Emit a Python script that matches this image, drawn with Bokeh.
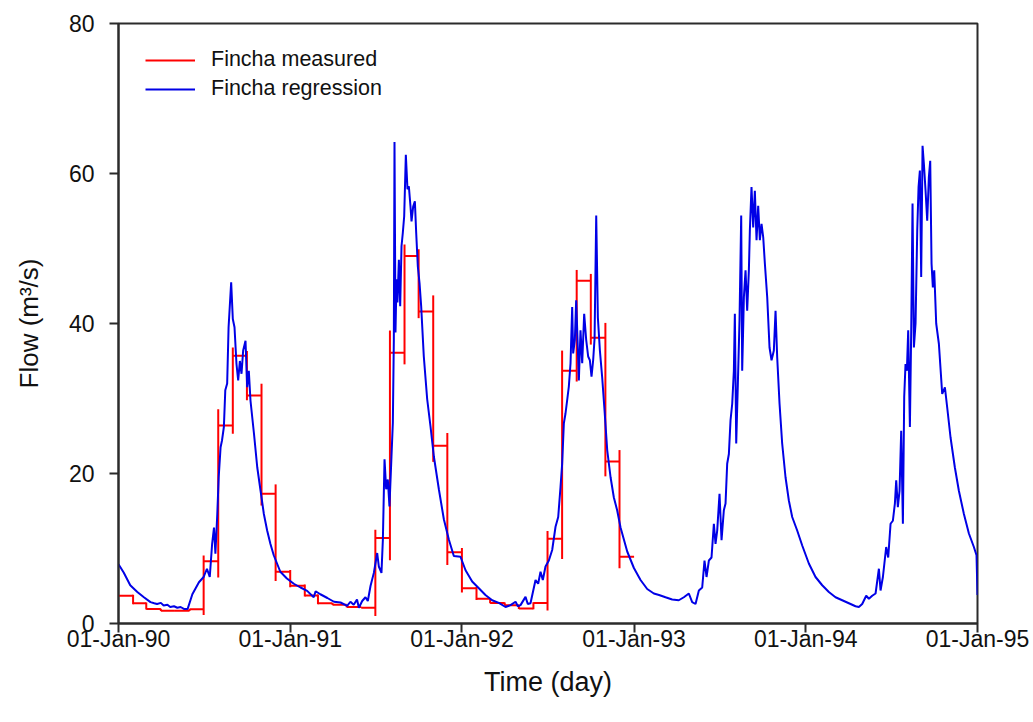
import numpy as np
import pandas as pd
from bokeh.plotting import figure
from bokeh.models import (FixedTicker, DatetimeTickFormatter, Legend, LegendItem,
                          Range1d, ColumnDataSource)
from bokeh.embed import file_html
from bokeh.resources import INLINE

# ---------------- data ----------------
# monthly measured flow (m3/s), Jan..Dec
measured_1990 = [3.7, 2.7, 1.95, 1.7, 1.7, 1.9, 8.3, 26.4, 35.7, 30.4, 17.3, 6.9]
measured_1991 = [5.05, 3.75, 2.7, 2.5, 2.2, 2.1, 11.4, 36.1, 49.0, 41.6, 23.7, 9.5]
measured_1992 = [4.7, 3.3, 2.75, 2.45, 2.0, 2.75, 11.3, 33.7, 45.7, 38.1, 21.6, 8.9]

# regression series: day since 01-Jan-1990, flow
reg_day_1990 = [0, 11, 25, 40, 54, 68, 76, 82, 90, 96, 104, 110, 118, 125, 132, 139, 147,
                157, 171, 181, 188, 194, 199, 203, 206, 210, 213, 217, 220, 224, 227, 231,
                234, 239.5, 243, 246.6, 250.8, 254.4, 258, 261.5, 265, 270, 273.5, 277,
                280.6, 288, 295, 302, 309, 316, 323, 330, 344, 358]
reg_flow_1990 = [7.9, 6.8, 5.1, 4.2, 3.5, 2.85, 2.7, 2.6, 2.75, 2.4, 2.5, 2.2, 2.3, 2.1, 2.2, 1.95, 1.95,
                 3.9, 5.5, 6.2, 7.3, 6.2, 10.6, 12.8, 9.3, 14.6, 19.5, 23.5, 24.4, 26.2, 31.1, 32,
                 39.5, 45.5, 40.6, 39.5, 34.6, 32.4, 35, 33.3, 36.4, 37.7, 31.5, 33.7,
                 29.7, 25.3, 20.8, 17.7, 14.6, 12.4, 10.6, 9.1, 6.9, 6.0]

reg_day_1991 = [372.7, 387, 401, 415, 419, 429, 444, 458, 472, 486, 493, 500, 507, 511, 518,
                525, 530, 535.7, 542.8, 549.9, 553.4, 559, 562, 565.5, 569, 572.5, 576,
                580.3, 583.2, 585.3, 586.7, 588.8, 591, 593, 596, 598.8, 601.6, 604.4,
                607.3, 610.8, 614.3, 617.2, 620.7, 622.9, 626.4, 630, 632.8, 636.3, 639.9,
                643.4, 649, 656.2, 663.2, 670.3, 681, 691.6, 702.2, 712.8]
reg_flow_1991 = [5.3, 4.8, 4.35, 3.5, 4.3, 3.9, 3.4, 2.9, 2.8, 2.35, 2.9, 2.5, 3.2, 2.1, 3.0,
                 3.5, 3.0, 5.0, 6.75, 9.4, 7.6, 6.75, 11.2, 21.9, 17.9, 19.2, 15.6,
                 22.3, 26.8, 37.9, 64.2, 38.8, 45.9, 42.8, 48.5, 42.3, 50.3, 52.1,
                 54.3, 62.5, 57.9, 58.3, 55.6, 53.6, 55.6, 56.3, 52.1, 47.6, 45.4,
                 42.3, 35.6, 29.9, 26.3, 22.3, 17.9, 13.9, 11.2, 9.0]

reg_day_1992 = [727, 737.7, 751.8, 766, 780, 794.3, 808.5, 822.7, 833.3, 844, 849, 854.6,
                865.2, 870, 875.8, 886.5, 892.1, 897.1, 902, 907.7, 914.8, 921.9, 929,
                934.7, 939.6, 943.1, 946.7, 950.2, 953.8, 957.3, 960.9, 964.4, 966.5,
                970.1, 972.9, 975.8, 978.6, 982.1, 985.7, 989.9, 994.2, 998.4, 1002,
                1005.5, 1009, 1012, 1015.5, 1019, 1023.3, 1028.2, 1033.2, 1038.9, 1046,
                1053, 1060, 1067.2, 1081.4, 1095.6, 1109.7, 1123.9, 1138, 1149]
reg_flow_1992 = [8.9, 7.1, 5.6, 4.7, 3.8, 3.1, 2.75, 2.2, 2.45, 2.9, 2.3, 2.45,
                 3.55, 2.6, 2.7, 5.8, 5.3, 6.9, 5.8, 7.6, 8.4, 9.8, 12.9,
                 14.2, 18.2, 21.3, 26.7, 28, 29.8, 31.6, 34.7, 42.2, 36,
                 37.8, 43.1, 37.8, 32.4, 39.1, 34.7, 41.3, 37.8, 35.6, 35.1,
                 32.9, 35.1, 38, 54.4, 40.8, 36.4, 32.8, 28.4, 23.1, 19.5,
                 16.8, 15.1, 12.8, 9.6, 7.4, 5.8, 4.6, 4.0, 3.8]

reg_day_1993 = [1162.8, 1177, 1191, 1201.8, 1212.4, 1219.5, 1226.6, 1233.7, 1240.8, 1245.7,
                1250, 1255, 1260.6, 1265.6, 1269.1, 1272.7, 1277.6, 1281.9, 1286.8, 1290.4,
                1293.9, 1297.5, 1301, 1304.6, 1308.1, 1310.2, 1313.1, 1316.6, 1320.1,
                1323.7, 1325.8, 1329.4, 1332.9, 1336.4, 1340, 1342.1, 1345.6, 1349.2,
                1352.7, 1356.3, 1359.8, 1363.4, 1366.9, 1370.5, 1374, 1379, 1383.9,
                1388.2, 1393.1, 1396.7, 1400.2, 1405.2, 1410.8, 1417.9, 1425, 1432.1,
                1442.7, 1453.4]
reg_flow_1993 = [3.5, 3.2, 3.1, 3.5, 4.0, 2.85, 2.6, 4.4, 4.8, 8.4,
                 6.2, 8.4, 8.8, 13.3, 10.6, 12.4, 17.3, 11.1, 15.1, 16,
                 21.3, 22.6, 27.1, 29.3, 33.7, 41.3, 24, 32, 40.4,
                 54.4, 33.7, 43.5, 47.1, 41.7, 47.1, 52.4, 58.2, 52.8,
                 57.7, 51.1, 55.7, 51.1, 53.3, 51.5, 48, 43.5, 36.8,
                 35.1, 36.4, 41.7, 35.5, 29.3, 24, 19.5, 16.4, 14.2,
                 12.4, 10.4]

reg_day_1994 = [1467.5, 1481.7, 1495.9, 1510, 1524.2, 1538.4, 1552.6, 1566.7, 1573.8,
                1580.9, 1589.4, 1595.1, 1602.2, 1609.3, 1616.4, 1619.9, 1624.9, 1631.9,
                1636.2, 1641.2, 1646.1, 1650.4, 1653.2, 1656.7, 1660.3, 1663.8, 1667.4,
                1670.2, 1673, 1675.9, 1678.7, 1682.3, 1685.1, 1687.9, 1690.8, 1694.3,
                1697.9, 1700.7, 1703.5, 1706.3, 1709.2, 1712, 1715.6, 1719.1, 1722.6,
                1725.5, 1728.3, 1731.1, 1734, 1738.2, 1743.9, 1751, 1756.7, 1761.6,
                1768.7, 1777.9, 1786.4, 1797.1, 1807.7, 1818.3, 1823.9, 1826]
reg_flow_1994 = [8.0, 6.2, 5.1, 4.2, 3.5, 3.1, 2.7, 2.3, 2.2,
                 2.6, 3.7, 3.3, 3.7, 4.0, 7.3, 4.4, 6.2, 10.2,
                 8.8, 13.3, 13.7, 16, 19.1, 15.5, 17.7, 25.7, 13.3,
                 30.2, 34.6, 33.7, 39.1, 26.2, 39.1, 56, 36.8, 40,
                 52.4, 58.2, 60.4, 46.2, 63.7, 61.3, 57.7, 53.7, 59.5,
                 61.7, 48, 44.8, 47.1, 40, 37.3, 30.6, 31.5, 28.8,
                 24.8, 20.8, 17.7, 14.6, 12, 10.2, 9.1, 3.8]

x_tick_dates = ["1990-01-01", "1991-01-01", "1992-01-01", "1993-01-01", "1994-01-01", "1995-01-01"]
y_ticks = [0, 20, 40, 60, 80]

# ---------------- build sources ----------------
origin = pd.Timestamp("1990-01-01")
reg_days = np.array(reg_day_1990 + reg_day_1991 + reg_day_1992 + reg_day_1993 + reg_day_1994)
reg_flow = np.array(reg_flow_1990 + reg_flow_1991 + reg_flow_1992 + reg_flow_1993 + reg_flow_1994)
reg_dates = origin + pd.to_timedelta(reg_days, unit="D")
reg_src = ColumnDataSource(dict(x=reg_dates, y=reg_flow))

meas = np.array(measured_1990 + measured_1991 + measured_1992)
edges = pd.date_range("1990-01-01", "1993-01-01", freq="MS")
h_src = ColumnDataSource(dict(x0=edges[:-1], x1=edges[1:], y0=meas, y1=meas))

lo = np.minimum(meas[:-1], meas[1:])
hi = np.maximum(meas[:-1], meas[1:])
ext = 0.12 * (hi - lo)
v_src = ColumnDataSource(dict(x0=edges[1:-1], x1=edges[1:-1], y0=lo - ext, y1=hi + ext))

# ---------------- figure ----------------
FONT = "Liberation Sans"
p = figure(width=1033, height=722, x_axis_type="datetime",
           x_range=Range1d(pd.Timestamp(x_tick_dates[0]), pd.Timestamp(x_tick_dates[-1])),
           y_range=Range1d(0, 80),
           output_backend="svg", toolbar_location=None,
           min_border_left=118, min_border_right=56, min_border_top=23, min_border_bottom=99)

p.background_fill_color = "white"
p.border_fill_color = "white"
p.outline_line_color = "#2b2b2b"
p.outline_line_width = 2
p.xgrid.visible = False
p.ygrid.visible = False

red = "#ff0000"
blue = "#0000e6"
r_h = p.segment(x0="x0", y0="y0", x1="x1", y1="y1", source=h_src, line_color=red, line_width=2)
p.segment(x0="x0", y0="y0", x1="x1", y1="y1", source=v_src, line_color=red, line_width=2)
r_b = p.line("x", "y", source=reg_src, line_color=blue, line_width=2)

# axes
tick_ms = [pd.Timestamp(d).value / 1e6 for d in x_tick_dates]
p.xaxis.ticker = FixedTicker(ticks=tick_ms)
fmt = "%d-%b-%y"
p.xaxis.formatter = DatetimeTickFormatter(years=fmt, months=fmt, days=fmt, hours=fmt,
                                          minutes=fmt, seconds=fmt, milliseconds=fmt,
                                          microseconds=fmt, hourmin=fmt, minsec=fmt)
p.yaxis.ticker = FixedTicker(ticks=y_ticks)

for ax in (p.xaxis[0], p.yaxis[0]):
    ax.axis_line_color = "#2b2b2b"
    ax.axis_line_width = 2
    ax.major_tick_line_color = "#2b2b2b"
    ax.major_tick_line_width = 2
    ax.major_tick_in = 0
    ax.major_tick_out = 9
    ax.minor_tick_line_color = None
    ax.major_label_text_font = FONT
    ax.major_label_text_font_size = "23px"
    ax.major_label_text_color = "#111111"
    ax.axis_label_text_font = FONT
    ax.axis_label_text_font_size = "27px"
    ax.axis_label_text_font_style = "normal"
    ax.axis_label_text_color = "#111111"

p.yaxis.axis_label_text_font_size = "26px"
p.xaxis.axis_label = "Time (day)"
p.yaxis.axis_label = "Flow (m³/s)"
p.xaxis.major_label_standoff = -7
p.yaxis.major_label_standoff = 15
p.xaxis.axis_label_standoff = 12
p.yaxis.axis_label_standoff = 22

legend = Legend(items=[LegendItem(label="Fincha measured", renderers=[r_h]),
                       LegendItem(label="Fincha regression", renderers=[r_b])],
                location=(27, 522))
legend.margin = 0
legend.padding = 0
legend.glyph_width = 50
legend.glyph_height = 24
legend.label_height = 24
legend.label_standoff = 16
legend.spacing = 4
legend.label_text_font = FONT
legend.label_text_font_size = "21.5px"
legend.label_text_color = "#111111"
legend.background_fill_alpha = 0
legend.border_line_color = None
p.add_layout(legend)

open("out.html", "w").write(file_html(p, INLINE))
